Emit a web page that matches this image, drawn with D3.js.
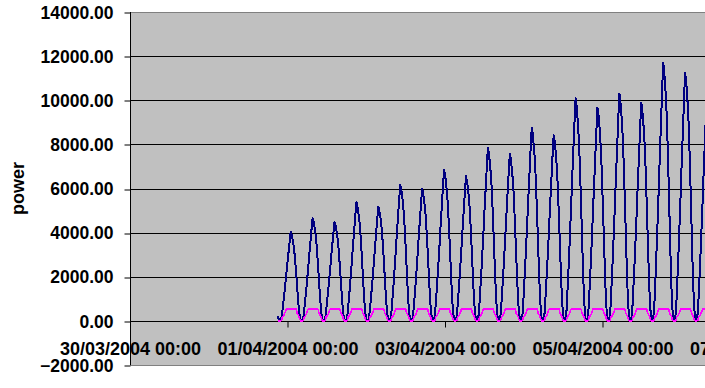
<!DOCTYPE html>
<html><head><meta charset="utf-8">
<script src="https://cdn.jsdelivr.net/npm/d3@7"></script>
<style>html,body{margin:0;padding:0;background:#fff;overflow:hidden}</style>
</head><body>
<svg id="chart" width="705" height="388"></svg>
<script>
// ---- data ----
const xTickLabels = ["30/03/2004 00:00", "01/04/2004 00:00", "03/04/2004 00:00", "05/04/2004 00:00", "07/04/2004 00:00"];
const xTickIndex = [0, 172.5, 345, 517.5, 690];
const xDomain = [0, 690];
const yTicks = [-2000, 0, 2000, 4000, 6000, 8000, 10000, 12000, 14000];
const yDomain = [-2000, 14000];
const seriesStartIndex = 162;

const powerBlue = [
  230, 40,
  0, 40, 160, 480, 850, 1210, 1610, 2020, 2460, 2860, 3260, 3670, 4030, 3910, 3710, 3470, 3140, 2660, 2140, 1570, 1010, 520, 200, 40,
  0, 50, 190, 560, 980, 1400, 1860, 2330, 2840, 3300, 3770, 4230, 4650, 4510, 4280, 4000, 3630, 3070, 2460, 1810, 1160, 600, 230, 50,
  0, 40, 180, 540, 940, 1350, 1800, 2250, 2740, 3190, 3640, 4090, 4490, 4360, 4130, 3860, 3500, 2960, 2380, 1750, 1120, 580, 220, 40,
  0, 50, 220, 650, 1130, 1610, 2150, 2690, 3280, 3820, 4360, 4900, 5380, 5220, 4950, 4630, 4200, 3550, 2850, 2100, 1350, 700, 270, 50,
  0, 50, 210, 620, 1090, 1550, 2070, 2590, 3160, 3680, 4200, 4710, 5180, 5020, 4770, 4450, 4040, 3420, 2750, 2020, 1300, 670, 260, 50,
  0, 60, 250, 740, 1300, 1850, 2470, 3090, 3770, 4390, 5010, 5620, 6180, 5990, 5690, 5310, 4820, 4080, 3280, 2410, 1550, 800, 310, 60,
  0, 60, 240, 720, 1260, 1800, 2400, 3000, 3660, 4260, 4860, 5460, 6000, 5820, 5520, 5160, 4680, 3960, 3180, 2340, 1500, 780, 300, 60,
  0, 70, 270, 820, 1440, 2060, 2740, 3430, 4180, 4870, 5560, 6240, 6860, 6650, 6310, 5900, 5350, 4530, 3640, 2680, 1720, 890, 340, 70,
  0, 70, 260, 790, 1380, 1970, 2620, 3280, 4000, 4660, 5310, 5970, 6560, 6360, 6040, 5640, 5120, 4330, 3480, 2560, 1640, 850, 330, 70,
  0, 80, 310, 940, 1650, 2360, 3140, 3930, 4790, 5570, 6360, 7140, 7850, 7610, 7220, 6750, 6120, 5180, 4160, 3060, 1960, 1020, 390, 80,
  0, 80, 300, 910, 1590, 2270, 3030, 3790, 4620, 5380, 6140, 6900, 7580, 7350, 6970, 6520, 5910, 5000, 4020, 2960, 1900, 990, 380, 80,
  0, 90, 350, 1050, 1840, 2630, 3500, 4380, 5340, 6220, 7100, 7970, 8760, 8500, 8060, 7530, 6830, 5780, 4640, 3420, 2190, 1140, 440, 90,
  0, 80, 340, 1010, 1770, 2530, 3370, 4210, 5140, 5980, 6820, 7660, 8420, 8170, 7750, 7240, 6570, 5560, 4460, 3280, 2110, 1090, 420, 80,
  0, 100, 400, 1210, 2120, 3020, 4030, 5040, 6150, 7160, 8160, 9170, 10080, 9780, 9270, 8670, 7860, 6650, 5340, 3930, 2520, 1310, 500, 100,
  0, 100, 390, 1160, 2030, 2900, 3870, 4840, 5900, 6870, 7830, 8800, 9670, 9380, 8900, 8320, 7540, 6380, 5130, 3770, 2420, 1260, 480, 100,
  0, 100, 410, 1240, 2160, 3090, 4120, 5150, 6280, 7310, 8340, 9370, 10300, 9990, 9480, 8860, 8030, 6800, 5460, 4020, 2580, 1340, 520, 100,
  0, 100, 400, 1190, 2080, 2970, 3960, 4950, 6040, 7030, 8020, 9010, 9900, 9600, 9110, 8510, 7720, 6530, 5250, 3860, 2480, 1290, 500, 100,
  0, 120, 470, 1410, 2460, 3510, 4680, 5860, 7140, 8310, 9490, 10660, 11710, 11360, 10770, 10070, 9130, 7730, 6210, 4570, 2930, 1520, 590, 120,
  0, 110, 450, 1350, 2360, 3380, 4500, 5630, 6870, 7990, 9120, 10250, 11260, 10920, 10360, 9680, 8780, 7430, 5970, 4390, 2820, 1460, 560, 110,
  0, 110, 420, 1260, 2210, 3160, 4210, 5260, 6420, 7470, 8520, 9570, 10520
];

const powerPink = [
  20, 0,
  0, 0, 30, 200, 220, 300, 400, 530, 530, 530, 530, 530, 530, 530, 530, 530, 530, 530, 530, 350, 280, 200, 60, 0,
  0, 0, 30, 200, 220, 300, 400, 530, 530, 530, 530, 530, 530, 530, 530, 530, 530, 530, 530, 350, 280, 200, 60, 0,
  0, 0, 30, 200, 220, 300, 400, 530, 530, 530, 530, 530, 530, 530, 530, 530, 530, 530, 530, 350, 280, 200, 60, 0,
  0, 0, 30, 200, 220, 300, 400, 530, 530, 530, 530, 530, 530, 530, 530, 530, 530, 530, 530, 350, 280, 200, 60, 0,
  0, 0, 30, 200, 220, 300, 400, 530, 530, 530, 530, 530, 530, 530, 530, 530, 530, 530, 530, 350, 280, 200, 60, 0,
  0, 0, 30, 200, 220, 300, 400, 530, 530, 530, 530, 530, 530, 530, 530, 530, 530, 530, 530, 350, 280, 200, 60, 0,
  0, 0, 30, 200, 220, 300, 400, 530, 530, 530, 530, 530, 530, 530, 530, 530, 530, 530, 530, 350, 280, 200, 60, 0,
  0, 0, 30, 200, 220, 300, 400, 530, 530, 530, 530, 530, 530, 530, 530, 530, 530, 530, 530, 350, 280, 200, 60, 0,
  0, 0, 30, 200, 220, 300, 400, 530, 530, 530, 530, 530, 530, 530, 530, 530, 530, 530, 530, 350, 280, 200, 60, 0,
  0, 0, 30, 200, 220, 300, 400, 530, 530, 530, 530, 530, 530, 530, 530, 530, 530, 530, 530, 350, 280, 200, 60, 0,
  0, 0, 30, 200, 220, 300, 400, 530, 530, 530, 530, 530, 530, 530, 530, 530, 530, 530, 530, 350, 280, 200, 60, 0,
  0, 0, 30, 200, 220, 300, 400, 530, 530, 530, 530, 530, 530, 530, 530, 530, 530, 530, 530, 350, 280, 200, 60, 0,
  0, 0, 30, 200, 220, 300, 400, 530, 530, 530, 530, 530, 530, 530, 530, 530, 530, 530, 530, 350, 280, 200, 60, 0,
  0, 0, 30, 200, 220, 300, 400, 530, 530, 530, 530, 530, 530, 530, 530, 530, 530, 530, 530, 350, 280, 200, 60, 0,
  0, 0, 30, 200, 220, 300, 400, 530, 530, 530, 530, 530, 530, 530, 530, 530, 530, 530, 530, 350, 280, 200, 60, 0,
  0, 0, 30, 200, 220, 300, 400, 530, 530, 530, 530, 530, 530, 530, 530, 530, 530, 530, 530, 350, 280, 200, 60, 0,
  0, 0, 30, 200, 220, 300, 400, 530, 530, 530, 530, 530, 530, 530, 530, 530, 530, 530, 530, 350, 280, 200, 60, 0,
  0, 0, 30, 200, 220, 300, 400, 530, 530, 530, 530, 530, 530, 530, 530, 530, 530, 530, 530, 350, 280, 200, 60, 0,
  0, 0, 30, 200, 220, 300, 400, 530, 530, 530, 530, 530, 530, 530, 530, 530, 530, 530, 530, 350, 280, 200, 60, 0,
  0, 0, 30, 200, 220, 300, 400, 530, 530, 530, 530, 530, 530
];

// ---- layout ----
const W = 705, H = 388;
const plot = {left: 130, top: 12, bottom: 365, right: 760};
const FONT = "'Liberation Sans', Arial, sans-serif";

const svg = d3.select("#chart");
const x = d3.scaleLinear().domain(xDomain).range([plot.left, plot.right]);
const y = d3.scaleLinear().domain(yDomain).range([plot.bottom, plot.top]);

// plot background
svg.append("rect")
  .attr("x", plot.left).attr("y", plot.top)
  .attr("width", plot.right + 200 - plot.left).attr("height", plot.bottom - plot.top)
  .attr("fill", "#c0c0c0");

// gridlines
svg.append("g").selectAll("line")
  .data(yTicks.filter(v => v > yDomain[0] && v < yDomain[1] && v !== 0))
  .join("line")
  .attr("x1", plot.left).attr("x2", W + 50)
  .attr("y1", d => Math.round(y(d)) + 0.5).attr("y2", d => Math.round(y(d)) + 0.5)
  .attr("stroke", "#000").attr("stroke-width", 1);

// border top/bottom (grey)
[yDomain[1], yDomain[0]].forEach(v => {
  svg.append("line")
    .attr("x1", plot.left).attr("x2", W + 50)
    .attr("y1", Math.round(y(v)) + 0.5).attr("y2", Math.round(y(v)) + 0.5)
    .attr("stroke", "#808080").attr("stroke-width", 1);
});

// y axis
const yAxis = d3.axisLeft(y).tickValues(yTicks).tickSize(6).tickPadding(11)
  .tickFormat(d => d3.format(".2f")(d));
const gy = svg.append("g").attr("transform", `translate(${plot.left + 0.5},0)`).call(yAxis);
gy.select(".domain").remove();
gy.selectAll(".tick line").attr("stroke", "#000")
  .attr("transform", d => `translate(0,${Math.round(y(d)) + 0.5 - y(d)})`);
gy.selectAll(".tick text")
  .attr("font-family", FONT).attr("font-size", 17.5).attr("font-weight", "bold")
  .attr("fill", "#000").attr("dy", "0.35em");
svg.append("line")
  .attr("x1", plot.left + 0.5).attr("x2", plot.left + 0.5)
  .attr("y1", plot.top).attr("y2", plot.bottom)
  .attr("stroke", "#000");

// x axis (at zero)
const y0 = Math.round(y(0)) + 0.5;
const xAxis = d3.axisBottom(x).tickValues(xTickIndex).tickSize(6).tickPadding(15)
  .tickFormat((d, i) => xTickLabels[i]);
const gx = svg.append("g").attr("transform", `translate(0,${y0})`).call(xAxis);
gx.select(".domain").remove();
gx.selectAll(".tick line").attr("stroke", "#000");
gx.selectAll(".tick text")
  .attr("font-family", FONT).attr("font-size", 18).attr("font-weight", "bold")
  .attr("fill", "#000");
svg.append("line")
  .attr("x1", plot.left).attr("x2", W + 50)
  .attr("y1", y0).attr("y2", y0)
  .attr("stroke", "#000");

// series lines
const line = d3.line()
  .x((d, i) => x(seriesStartIndex + i))
  .y(d => y(d));

svg.append("path").datum(powerBlue)
  .attr("d", line)
  .attr("fill", "none").attr("stroke", "#000080")
  .attr("stroke-width", 2).attr("stroke-linejoin", "round")
  .attr("shape-rendering", "crispEdges");

svg.append("path").datum(powerPink)
  .attr("d", line)
  .attr("fill", "none").attr("stroke", "#ff00ff")
  .attr("stroke-width", 1.6).attr("stroke-linejoin", "round")
  .attr("shape-rendering", "crispEdges");

// y axis title
svg.append("text")
  .attr("transform", `translate(24,${(plot.top + plot.bottom) / 2}) rotate(-90)`)
  .attr("text-anchor", "middle")
  .attr("font-family", FONT).attr("font-size", 18).attr("font-weight", "bold")
  .attr("fill", "#000")
  .text("power");
</script>
</body></html>
